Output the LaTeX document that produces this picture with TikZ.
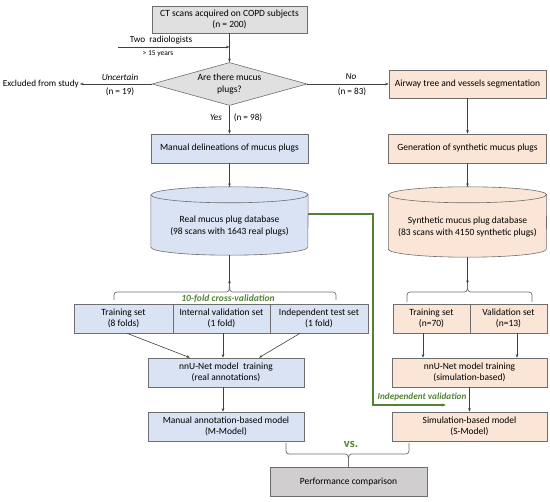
\documentclass[tikz,border=0pt]{standalone}
\usepackage{fontspec}
\setmainfont{Carlito}
\usetikzlibrary{shapes.geometric,arrows.meta}
\definecolor{bfill}{HTML}{DAE3F3}
\definecolor{ofill}{HTML}{FBE5D6}
\definecolor{gfill}{HTML}{E0E0E0}
\definecolor{pfill}{HTML}{D0CECE}
\definecolor{bord}{HTML}{6E6E6E}
\definecolor{lcol}{HTML}{404040}
\definecolor{grn}{HTML}{548235}
\newcommand\mainf{\fontsize{9.5}{11.5}\selectfont}
\newcommand\smallf{\fontsize{9.2}{11}\selectfont}
\newcommand\tinyf{\fontsize{7.5}{9}\selectfont}
\tikzset{
  box/.style={draw=bord, line width=0.6pt, minimum height=29pt, inner sep=1pt, align=center, font=\mainf},
  bluebox/.style={box, fill=bfill},
  orbox/.style={box, fill=ofill},
  conn/.style={draw=lcol, line width=0.6pt, -{Stealth[length=3.5pt,width=2.6pt]}},
  bracest/.style={draw=bord, line width=0.7pt},
  cylst/.style={draw=bord, line width=0.6pt},
  lab/.style={font=\smallf, inner sep=1pt},
  glab/.style={font=\fontsize{9.6}{11}\selectfont\bfseries\itshape, text=grn, inner sep=1pt},
  gline/.style={draw=grn, line width=1.2pt, -{Stealth[length=4pt,width=3pt]}}
}
\begin{document}
\begin{tikzpicture}[x=1pt,y=-1pt]
\useasboundingbox (0,0) rectangle (550,502);
% top
\node[box, fill=gfill, minimum width=155pt, minimum height=27pt] (ct) at (229.5,19.5) {CT scans acquired on COPD subjects\\(n = 200)};
\node[diamond, draw=bord, line width=0.6pt, fill=gfill, minimum width=155pt, minimum height=43pt, inner sep=0pt, aspect=3.6, align=center, font=\mainf] (dia) at (229.5,84) {Are there mucus\\plugs?};
\draw[conn] (ct.south) -- (dia.north);
\coordinate (radstart) at (118,47);
\draw[conn] (radstart) -- (radstart -| ct.south);
\node[lab] (rad) at (161,40) {Two\ \ radiologists};
\node[lab, font=\tinyf] (yrs) at (158,54) {> 15 years};
% left exclusion
\node[lab, anchor=east] (excl) at (80,84) {Excluded from study};
\draw[conn] (dia.west) -- (excl.east);
\node[lab, font=\smallf\itshape] (unc) at (120,77) {Uncertain};
\node[lab] (n19) at (120,92) {(n = 19)};
% right branch
\node[orbox, minimum width=157pt, minimum height=28pt] (air) at (467.5,84) {Airway tree and vessels segmentation};
\draw[conn] (dia.east) -- (air.west);
\node[lab, font=\smallf\itshape] (no) at (351,77) {No};
\node[lab] (n83) at (352,92) {(n = 83)};
% yes
\node[bluebox, minimum width=157pt] (man) at (229.5,148.5) {Manual delineations of mucus plugs};
\draw[conn] (dia.south) -- (man.north);
\node[lab, font=\smallf\itshape] (yes) at (216,118) {Yes};
\node[lab] (n98) at (248,118) {(n = 98)};
\node[orbox, minimum width=158pt] (gen) at (467.5,148.5) {Generation of synthetic mucus plugs};
\draw[conn] (air.south) -- (gen.north);
% cylinders
\node[minimum width=157pt, minimum height=68pt, inner sep=0pt] (rdb) at (229.5,221) {};
\path[cylst, fill=bfill] ([yshift=-8pt]rdb.north west) -- ([yshift=8pt]rdb.south west)
  arc[start angle=180,end angle=360,x radius=78.5pt,y radius=8pt] -- ([yshift=-8pt]rdb.north east)
  arc[start angle=0,end angle=180,x radius=78.5pt,y radius=8pt] -- cycle;
\draw[cylst] ([yshift=-8pt]rdb.north west) arc[start angle=180,end angle=360,x radius=78.5pt,y radius=8pt];
\node[font=\mainf, align=center, inner sep=0pt] (rdbt) at (229.5,226) {Real mucus plug database\\(98 scans with 1643 real plugs)};
\draw[conn] (man.south) -- (rdb.north);
\node[minimum width=158pt, minimum height=70pt, inner sep=0pt] (sdb) at (467.5,222) {};
\path[cylst, fill=ofill] ([yshift=-8pt]sdb.north west) -- ([yshift=8pt]sdb.south west)
  arc[start angle=180,end angle=360,x radius=79pt,y radius=8pt] -- ([yshift=-8pt]sdb.north east)
  arc[start angle=0,end angle=180,x radius=79pt,y radius=8pt] -- cycle;
\draw[cylst] ([yshift=-8pt]sdb.north west) arc[start angle=180,end angle=360,x radius=79pt,y radius=8pt];
\node[font=\mainf, align=center, inner sep=0pt] (sdbt) at (467.5,227) {Synthetic mucus plug database\\(83 scans with 4150 synthetic plugs)};
\draw[conn] (gen.south) -- (sdb.north);
% braces
\coordinate (rtip) at (229.5,285);
\draw[bracest] (114,300) -- (114,295) to[out=90,in=180] (117,292) -- (226.5,292) to[out=0,in=-90] (rtip)
  to[out=-90,in=180] (232.5,292) -- (333,292) to[out=0,in=90] (336,295) -- (336,300);
\draw[conn] (rdb.south) -- (rtip);
\coordinate (stip) at (467.5,284);
\draw[bracest] (407,302) -- (407,295) to[out=90,in=180] (410,292) -- (464.5,292) to[out=0,in=-90] (stip)
  to[out=-90,in=180] (470.5,292) -- (529,292) to[out=0,in=90] (532,295) -- (532,302);
\draw[conn] (sdb.south) -- (stip);
% sets
\node[glab] (cv) at (228,298.5) {10-fold cross-validation};
\node[bluebox, minimum width=99pt] (tr) at (123.5,318.5) {Training set\\(8 folds)};
\node[bluebox, minimum width=97pt] (iv) at (221.5,318.5) {Internal validation set\\(1 fold)};
\node[bluebox, minimum width=98pt] (it) at (319,318.5) {Independent test set\\(1 fold)};
\node[orbox, minimum width=77pt] (str) at (431.5,318.5) {Training set\\(n=70)};
\node[orbox, minimum width=77pt] (sval) at (508.5,318.5) {Validation set\\(n=13)};
% training
\node[bluebox, minimum width=156pt] (nnr) at (226,372.5) {nnU-Net model\ \ training\\(real annotations)};
\node[orbox, minimum width=155pt] (nns) at (469.5,372.5) {nnU-Net model training\\(simulation-based)};
\draw[conn] ([xshift=3.5pt]tr.south) -- ([xshift=-36pt]nnr.north);
\draw[conn] ([xshift=1.5pt]iv.south) -- ([xshift=-3pt]nnr.north);
\draw[conn] ([xshift=-19pt]it.south) -- ([xshift=33pt]nnr.north);
\draw[conn] ([xshift=-8.5pt]str.south) -- ([xshift=-8.5pt]str.south |- nns.north);
\draw[conn] ([xshift=8.5pt]sval.south) -- ([xshift=8.5pt]sval.south |- nns.north);
% models
\node[bluebox, minimum width=156pt] (mm) at (226,426.5) {Manual annotation-based model\\(M-Model)};
\node[orbox, minimum width=155pt] (sm) at (469.5,426.5) {Simulation-based model\\(S-Model)};
\draw[conn] ([xshift=-3pt]nnr.south) -- ([xshift=-3pt]mm.north);
\draw[conn] (nns.south) -- (sm.north);
% green validation
\coordinate (gc) at (373,405);
\coordinate (gend) at (446,405);
\draw[gline] ([yshift=7pt]rdb.east) -| (gc) -- (gend);
\node[glab, font=\fontsize{9.2}{11}\selectfont\bfseries\itshape] (iv2) at (422,397) {Independent validation};
% comparison
\node[box, fill=pfill, minimum width=157pt] (perf) at (348.5,481.5) {Performance comparison};
\draw[bracest] (286,443) -- (286,451) to[out=-90,in=180] (289,454) -- (345.5,454) to[out=0,in=90] (348.5,458)
  to[out=90,in=180] (351.5,454) -- (406,454) to[out=0,in=-90] (409,451) -- (409,443);
\draw[bracest] (348.5,458) -- (perf.north);
\node[font=\fontsize{12.5}{14}\selectfont\bfseries, text=grn, inner sep=1pt] (vs) at (351,444.5) {vs.};
\end{tikzpicture}
\end{document}
